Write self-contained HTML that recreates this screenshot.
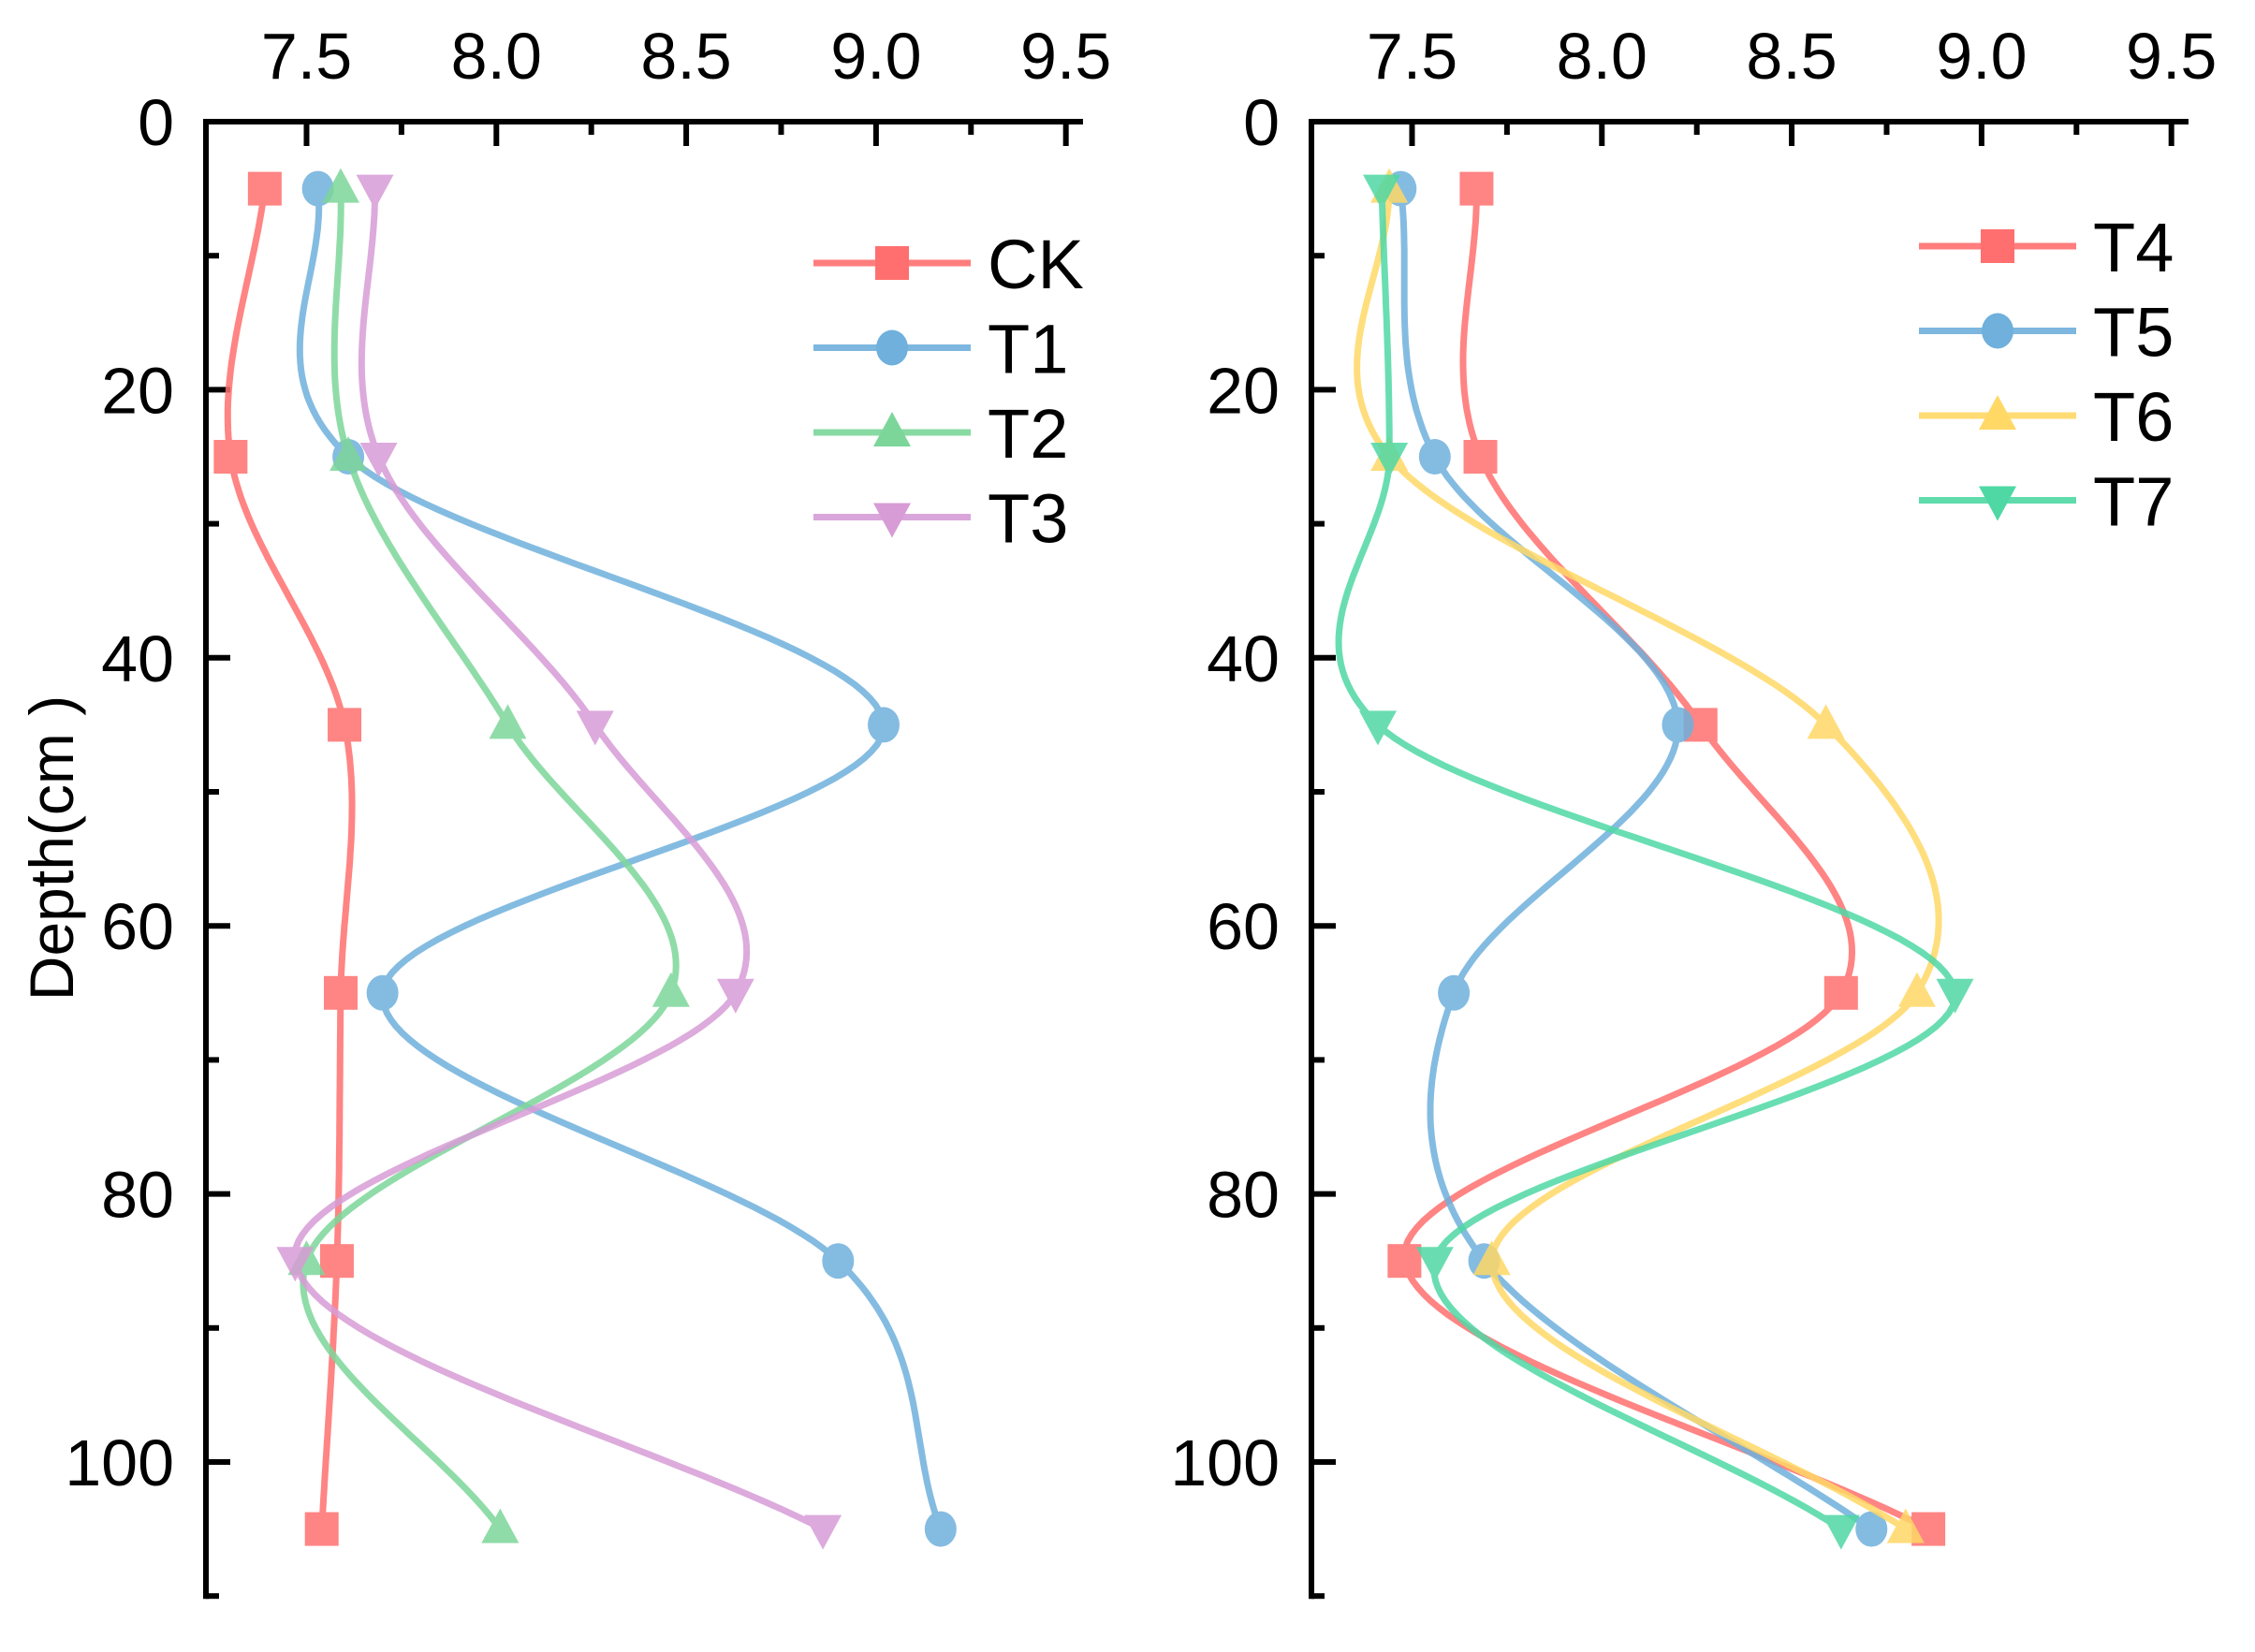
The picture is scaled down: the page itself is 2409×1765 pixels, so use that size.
<!DOCTYPE html>
<html><head><meta charset="utf-8"><style>
body{margin:0;background:#fff}
svg text{font-family:"Liberation Sans",Arial,sans-serif}
</style></head><body>
<svg id="chart" width="2409" height="1760" viewBox="0 0 2409 1760" xmlns="http://www.w3.org/2000/svg"></svg>
<script>
const depths=[5,25,45,65,85,105];
const xTicks=[7.5,8.0,8.5,9.0,9.5];
const yTicks=[0,20,40,60,80,100];
const ckVals=[7.39,7.30,7.60,7.59,7.58,7.54];
const t1Vals=[7.53,7.61,9.02,7.70,8.90,9.17];
const t2Vals=[7.59,7.61,8.03,8.46,7.50,8.01];
const t3Vals=[7.68,7.69,8.26,8.63,7.47,8.86];
const t4Vals=[7.67,7.68,8.26,8.63,7.48,8.86];
const t5Vals=[7.47,7.56,8.20,7.61,7.69,8.71];
const t6Vals=[7.44,7.44,8.59,8.83,7.71,8.80];
const t7Vals=[7.42,7.44,7.41,8.93,7.56,8.63];
const leftNames=["CK","T1","T2","T3"];
const rightNames=["T4","T5","T6","T7"];

const NS="http://www.w3.org/2000/svg";
const svg=document.getElementById('chart');
function mk(tag,attrs,parent){const e=document.createElementNS(NS,tag);for(const k in attrs)e.setAttribute(k,attrs[k]);(parent||svg).appendChild(e);return e;}
const Y0=130,PXCM=14.32,PXU=405.6,AXMIN=7.235,AXMAX=9.545;
function yS(d){return Y0+d*PXCM;}
function curve(xs,ys){const n=xs.length;const m=[];
for(let i=0;i<n;i++){if(i===0)m.push((ys[1]-ys[0])/(xs[1]-xs[0]));else if(i===n-1)m.push((ys[n-1]-ys[n-2])/(xs[n-1]-xs[n-2]));else m.push((ys[i+1]-ys[i-1])/(xs[i+1]-xs[i-1]));}
return t=>{let i=0;while(i<n-2&&t>xs[i+1])i++;const h=xs[i+1]-xs[i];const u=(t-xs[i])/h;
const h00=2*u*u*u-3*u*u+1,h10=u*u*u-2*u*u+u,h01=-2*u*u*u+3*u*u,h11=u*u*u-u*u;
return h00*ys[i]+h10*h*m[i]+h01*ys[i+1]+h11*h*m[i+1];};}
function marker(type,cx,cy,color,g){const s=18;let e;
if(type==='sq')e=mk('rect',{x:cx-s,y:cy-s,width:2*s,height:2*s,fill:color},g);
else if(type==='ci')e=mk('ellipse',{cx,cy,rx:17,ry:19,fill:color},g);
else if(type==='up')e=mk('polygon',{points:`${cx},${cy-22} ${cx-20},${cy+15} ${cx+20},${cy+15}`,fill:color},g);
else e=mk('polygon',{points:`${cx},${cy+22} ${cx-20},${cy-15} ${cx+20},${cy-15}`,fill:color},g);
return e;}
function panel(ox,series,names,legY,legX,name){
const g=mk('g',{});


const xS=v=>ox+(v-AXMIN)*PXU;const right=xS(AXMAX);
mk('line',{x1:ox,y1:Y0,x2:right,y2:Y0,stroke:'#000','stroke-width':6},g);
mk('line',{x1:ox,y1:Y0-3,x2:ox,y2:yS(110)+3,stroke:'#000','stroke-width':6},g);
for(let k=0;k<=8;k++){const v=7.5+k*0.25;const maj=k%2===0;mk('line',{x1:xS(v),y1:Y0,x2:xS(v),y2:Y0+(maj?26:14),stroke:'#000','stroke-width':6},g);}
xTicks.forEach(v=>{const t=mk('text',{x:xS(v),y:84,'font-size':70,'text-anchor':'middle'},g);t.textContent=v.toFixed(1);

});
for(let d=10;d<=110;d+=10){const maj=d%20===0;mk('line',{x1:ox,y1:yS(d),x2:ox+(maj?26:14),y2:yS(d),stroke:'#000','stroke-width':6},g);}
yTicks.forEach(d=>{const t=mk('text',{x:ox-34,y:yS(d)+25,'font-size':70,'text-anchor':'end'},g);t.textContent=d;

});
series.forEach((s,si)=>{const f=curve(depths,s.vals);let p='';for(let d=5;d<=105;d+=0.5){p+=(d===5?'M':'L')+xS(f(d)).toFixed(1)+','+yS(d).toFixed(1);}
const sg=mk('g',{opacity:0.85},g);


mk('path',{d:p,fill:'none',stroke:s.color,'stroke-width':7},sg);
s.vals.forEach((v,i)=>{const m=marker(s.m,xS(v),yS(depths[i]),s.color,sg);

});
const ly=legY+si*90.5;const lg=mk('g',{},g);


mk('line',{x1:legX,y1:ly,x2:legX+168,y2:ly,stroke:s.color,'stroke-width':7,opacity:0.9},lg);
marker(s.m,legX+84,ly,s.color,lg);
const lt=mk('text',{x:legX+186,y:ly+27,'font-size':74},lg);lt.textContent=names[si];});
}
const cR='#ff6f6f',cB='#6fb0dc',cG='#7cd69a',cP='#d79cd6',cY='#ffd866',cT='#4fd8a4';
panel(220,[{vals:ckVals,color:cR,m:'sq'},{vals:t1Vals,color:cB,m:'ci'},{vals:t2Vals,color:cG,m:'up'},{vals:t3Vals,color:cP,m:'dn'}],leftNames,281,869,'left-panel');
panel(1401,[{vals:t4Vals,color:cR,m:'sq'},{vals:t5Vals,color:cB,m:'ci'},{vals:t6Vals,color:cY,m:'up'},{vals:t7Vals,color:cT,m:'dn'}],rightNames,263,2050,'right-panel');
const yt=mk('text',{x:0,y:0,'font-size':66,'text-anchor':'middle',transform:'translate(78,906) rotate(-90)'});
yt.textContent='Depth(cm )';


</script>
</body></html>
